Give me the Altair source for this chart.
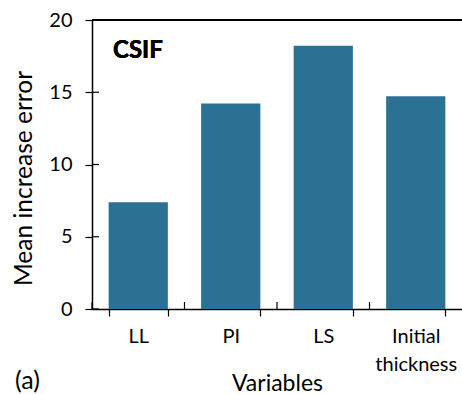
import altair as alt
import pandas as pd

categories = ["LL", "PI", "LS", "Initial thickness"]
values = [7.38, 14.23, 18.22, 14.72]
y_ticks = [0, 5, 10, 15, 20]

df = pd.DataFrame({"Variable": categories, "error": values})
df_ticks = pd.DataFrame({"tick": y_ticks})

FONT = "Lato"
W, H = 370, 289
PAD_IN = 0.36
PAD_OUT = 0.18
xscale = alt.Scale(domain=categories, paddingInner=PAD_IN, paddingOuter=PAD_OUT)
yscale = alt.Scale(domain=[0, 20], nice=False, zero=True)
STEP = W / len(categories)

bars = alt.Chart(df).mark_bar(color="#2A7194").encode(
    x=alt.X("Variable:N", scale=xscale, sort=categories,
            axis=alt.Axis(title="Variables", labelAngle=0,
                          labelExpr="split(datum.label, ' ')",
                          tickBand="extent", tickSize=7, labelPadding=10,
                          labelLineHeight=28, labelBaseline="top",
                          titleY=74, titleBaseline="middle", titleFontSize=23)),
    y=alt.Y("error:Q", scale=yscale,
            axis=alt.Axis(title="Mean increase error", values=y_ticks,
                          tickSize=7, labelPadding=13,
                          titleAngle=270, titleX=-68, titleY=158,
                          titleAlign="center", titleBaseline="middle",
                          titleFontSize=24.5)),
)

# inward halves of the crossing ticks
y_inner = alt.Chart(df_ticks).mark_rule(color="black", strokeWidth=1.2).encode(
    y=alt.Y("tick:Q", scale=yscale, axis=None),
    x=alt.value(0), x2=alt.value(7),
)
x_inner = alt.Chart(df).mark_rule(
    color="black", strokeWidth=1.2, xOffset=-PAD_OUT * STEP
).encode(
    x=alt.X("Variable:N", scale=xscale, sort=categories, axis=None,
            bandPosition=0),
    y=alt.value(H - 7), y2=alt.value(H),
)

top = alt.Chart(df).mark_rule(color="black", strokeWidth=2).encode(
    y=alt.YDatum(20, axis=None)
)

csif = alt.Chart(df).mark_text(
    text="CSIF", fontWeight="bold", fontSize=24, font=FONT,
    align="left", baseline="middle", color="black"
).encode(x=alt.value(21), y=alt.value(31))

chart = alt.layer(bars, y_inner, x_inner, top, csif).resolve_axis(
    x="independent", y="independent"
).properties(
    width=W, height=H,
    autosize=alt.AutoSizeParams(type="none"),
    padding={"left": 92, "top": 20, "right": 0, "bottom": 85},
    title=alt.TitleParams(
        "(a)", orient="bottom", anchor="start", frame="group",
        font=FONT, fontSize=25, fontWeight="normal", color="black",
        dx=-77, offset=0, baseline="middle", dy=-14,
    ),
).configure_view(stroke=None).configure_axis(
    labelFont=FONT, titleFont=FONT, labelFontSize=20,
    labelColor="black", titleColor="black", titleFontWeight="normal",
    domainColor="black", tickColor="black", domainWidth=1.5, tickWidth=1.2,
    grid=False,
)

chart.save("out.html", embed_options={"renderer": "svg", "actions": False})
